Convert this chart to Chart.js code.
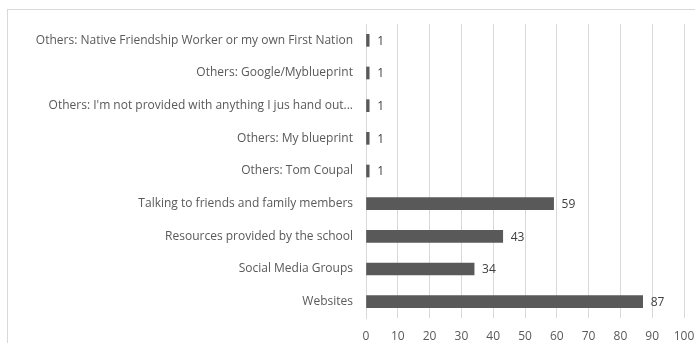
<!DOCTYPE html>
<html>
<head>
<meta charset="utf-8">
<script src="https://cdn.jsdelivr.net/npm/chart.js@4"></script>
<style>
  html, body { margin: 0; padding: 0; background: #fff; }
  #wrap { width: 695px; height: 343px; }
</style>
</head>
<body>
<div id="wrap"><canvas id="myChart" width="695" height="343"></canvas></div>
<script>
const categories = [
    'Others: Native Friendship Worker or my own First Nation',
    'Others: Google/Myblueprint',
    'Others: I\'m not provided with anything I jus hand out...',
    'Others: My blueprint',
    'Others: Tom Coupal',
    'Talking to friends and family members',
    'Resources provided by the school',
    'Social Media Groups',
    'Websites'
];
const counts = [1, 1, 1, 1, 1, 59, 43, 34, 87];
const axisMin = 0;
const axisMax = 100;
const axisStep = 10;

const textFont = { family: '"Open Sans", sans-serif', size: 12 };

// outer frame of the chart box
const framePlugin = {
    id: 'frame',
    beforeDraw(chart) {
        const c = chart.ctx;
        c.save();
        c.strokeStyle = '#d9d9d9';
        c.lineWidth = 1;
        c.strokeRect(7.5, 9.5, 720, 360);
        c.restore();
    }
};

// value written just past the end of each bar
const valueLabels = {
    id: 'valueLabels',
    afterDatasetsDraw(chart) {
        const c = chart.ctx;
        const meta = chart.getDatasetMeta(0);
        c.save();
        c.font = textFont.size + 'px ' + textFont.family;
        c.fillStyle = '#404040';
        c.textAlign = 'left';
        c.textBaseline = 'middle';
        meta.data.forEach((bar, i) => {
            c.fillText(String(counts[i]), bar.x + 8, bar.y + 1);
        });
        c.restore();
    }
};

const config = {
    type: 'bar',
    data: {
        labels: categories,
        datasets: [{
            data: counts,
            backgroundColor: '#595959',
            borderWidth: 0,
            barThickness: 12
        }]
    },
    options: {
        indexAxis: 'y',
        responsive: false,
        animation: false,
        layout: { padding: { top: 24, right: 11, left: 0, bottom: 0 } },
        plugins: {
            legend: { display: false },
            title: { display: false },
            tooltip: { enabled: false }
        },
        scales: {
            x: {
                min: axisMin,
                max: axisMax,
                ticks: {
                    stepSize: axisStep,
                    color: '#595959',
                    font: textFont,
                    padding: 11
                },
                grid: { color: '#d9d9d9', drawTicks: false },
                border: { display: false },
                afterFit(scale) {
                    scale.height = 25;
                    scale.paddingLeft = 0;
                    scale.paddingRight = 0;
                }
            },
            y: {
                ticks: {
                    color: '#595959',
                    font: textFont,
                    padding: 13,
                    autoSkip: false
                },
                grid: { display: false, drawTicks: false },
                border: { display: true, color: '#d9d9d9' },
                afterFit(scale) {
                    scale.width = 366;
                    scale.paddingTop = 0;
                    scale.paddingBottom = 0;
                }
            }
        }
    },
    plugins: [framePlugin, valueLabels]
};

const ctx = document.getElementById('myChart').getContext('2d');
const myChart = new Chart(ctx, config);
</script>
</body>
</html>
